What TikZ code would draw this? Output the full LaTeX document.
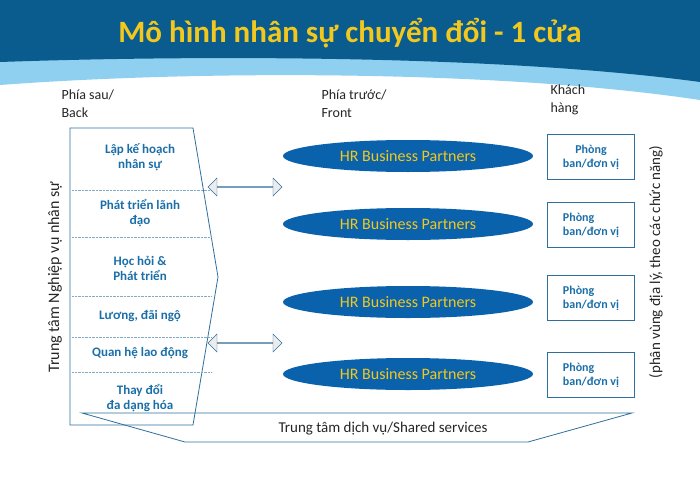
\documentclass[tikz,border=0pt]{standalone}
\usepackage{fontspec}
\setmainfont{Carlito}
\usetikzlibrary{shapes.arrows, shapes.geometric, positioning}
\definecolor{banner}{HTML}{0B5C8E}
\definecolor{bannerlight}{HTML}{8FD0F0}
\definecolor{titleyellow}{HTML}{F2C81E}
\definecolor{hrblue}{HTML}{0B62AC}
\definecolor{lineblue}{HTML}{2E6F9E}
\definecolor{textblue}{HTML}{1B6FA9}

\begin{document}
\begin{tikzpicture}
   [
      x=1pt, y=-1pt,
      % Style for column headings
      heading/.style={align=left, anchor=north west, font=\fontsize{14}{18}\selectfont, text=black!85},
      % Style for the HR function texts
      func/.style={align=center, font=\fontsize{13}{15}\selectfont\bfseries, text=textblue},
      % Style for the partner ellipses
      partner/.style={ellipse, fill=hrblue, minimum width=250pt, minimum height=32pt, text=titleyellow, font=\fontsize{16}{18}\selectfont},
      % Style for the unit boxes
      unit/.style={draw=lineblue, thick, minimum width=87pt, minimum height=45pt, align=left, text=textblue, font=\fontsize{12}{14}\selectfont\bfseries},
      % Style for the double arrows
      link/.style={double arrow, draw=lineblue, fill=gray!15, minimum width=18pt, minimum height=74pt, double arrow head extend=5pt, inner sep=0pt},
      sep line/.style={densely dotted, lineblue!60}
   ]
    \useasboundingbox (0,0) rectangle (700,500);
    \fill[white] (0,0) rectangle (700,500);

    % Banner
    \fill[bannerlight] (0,0) -- (700,0) -- (700,100) .. controls (500,70) and (200,70) .. (0,85) -- cycle;
    \fill[banner] (0,0) -- (700,0) -- (700,82) .. controls (500,55) and (200,55) .. (0,62) -- cycle;
    \node[text=titleyellow, font=\fontsize{31}{34}\selectfont\bfseries] (title) at (350,33) {Mô hình nhân sự chuyển đổi - 1 cửa};

    % Column headings
    \node[heading] (back) at (58,86) {Phía sau/\\Back};
    \node[heading] (front) at (318,86) {Phía trước/\\Front};
    \node[heading] (client) at (547,81) {Khách\\hàng};

    % Back office block
    \draw[lineblue, thick] (70,128) -- (193,128) -- (218,277) -- (193,425) -- (70,425) -- cycle;
    \foreach \y in {190,237,296,337,372}
      \draw[sep line] (72,\y) -- (212,\y);
    \node[func] (plan) at (140,157) {Lập kế hoạch\\nhân sự};
    \node[func] (lead) at (140,213) {Phát triển lãnh\\đạo};
    \node[func] (learn) at (140,268) {Học hỏi \&\\Phát triển};
    \node[func] (pay) at (140,316) {Lương, đãi ngộ};
    \node[func] (rel) at (140,353) {Quan hệ lao động};
    \node[func] (change) at (140,398) {Thay đổi\\đa dạng hóa};

    % Arrows
    \node[link] (linkA) at (245,187) {};
    \node[link] (linkB) at (245,343) {};

    % HR Business Partners
    \node[partner] (hr1) at (408,156) {HR Business Partners};
    \node[partner] (hr2) at (408,224) {HR Business Partners};
    \node[partner] (hr3) at (408,302) {HR Business Partners};
    \node[partner] (hr4) at (408,374) {HR Business Partners};

    % Units
    \node[unit, align=center] (unit1) at (591,157) {Phòng\\ban/đơn vị};
    \node[unit] (unit2) at (591,225) {Phòng\\ban/đơn vị};
    \node[unit] (unit3) at (591,298) {Phòng\\ban/đơn vị};
    \node[unit] (unit4) at (591,375) {Phòng\\ban/đơn vị};

    % Side labels
    \node[rotate=90, font=\fontsize{16}{18}\selectfont, text=black!85] (hrcenter) at (55,277) {Trung tâm Nghiệp vụ nhân sự};
    \node[rotate=90, font=\fontsize{15}{18}\selectfont, text=black!85] (region) at (656,262) {(phân vùng địa lý, theo các chức năng)};

    % Shared services
    \draw[lineblue, thick] (82,413) -- (632,413) -- (528,442) -- (185,442) -- cycle;
    \node[font=\fontsize{15}{18}\selectfont, text=black!85] (shared) at (383,429) {Trung tâm dịch vụ/Shared services};
\end{tikzpicture}
\end{document}
